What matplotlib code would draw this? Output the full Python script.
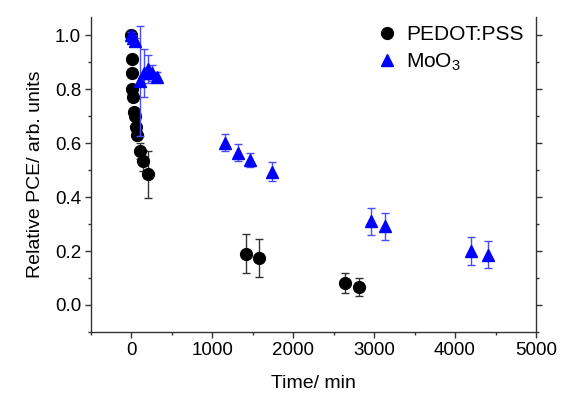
import matplotlib
matplotlib.use("Agg")
import matplotlib.pyplot as plt
from matplotlib.ticker import MultipleLocator, FormatStrFormatter
from matplotlib.lines import Line2D

plt.rcParams['font.family'] = ['Liberation Sans', 'DejaVu Sans']
plt.rcParams['mathtext.fontset'] = 'custom'
plt.rcParams['mathtext.rm'] = 'Liberation Sans'

# PEDOT:PSS interlayer
pedot_t = [0, 2, 5, 12, 25, 33, 46, 58, 70, 107, 140, 200,
           1415, 1580, 2640, 2815]
pedot_pce = [1.00, 0.91, 0.86, 0.80, 0.77, 0.716, 0.70, 0.66, 0.63, 0.57, 0.535, 0.484,
             0.19, 0.173, 0.08, 0.067]
pedot_err = [0.01, 0.01, 0.01, 0.01, 0.01, 0.01, 0.01, 0.015, 0.02, 0.03, 0.04, 0.088,
             0.072, 0.071, 0.037, 0.034]

# MoO3 interlayer
moo3_t = [0, 20, 40, 107, 150, 200, 260, 320,
          1157, 1313, 1469, 1737, 2967, 3132, 4202, 4407]
moo3_pce = [1.00, 0.99, 0.98, 0.83, 0.86, 0.875, 0.86, 0.845,
            0.602, 0.565, 0.537, 0.494, 0.31, 0.292, 0.20, 0.187]
moo3_err = [0.01, 0.01, 0.01, 0.205, 0.09, 0.052, 0.03, 0.02,
            0.03, 0.033, 0.025, 0.036, 0.05, 0.05, 0.052, 0.049]

fig = plt.figure(figsize=(5.72, 3.98), dpi=100)
ax = fig.add_axes([0.159, 0.166, 0.778, 0.791])

ax.errorbar(pedot_t, pedot_pce, yerr=pedot_err, fmt='o', color='black',
            ecolor='#333333', elinewidth=1.0, capsize=3, capthick=1.0,
            markersize=8.5, zorder=2)
ax.errorbar(moo3_t, moo3_pce, yerr=moo3_err, fmt='^', color='#0000ff',
            ecolor='#4a4aff', elinewidth=1.0, capsize=3, capthick=1.0,
            markersize=9, zorder=3)

ax.set_xlim(-500, 5000)
ax.set_ylim(-0.1, 1.067)
ax.xaxis.set_major_locator(MultipleLocator(1000))
ax.xaxis.set_minor_locator(MultipleLocator(500))
ax.yaxis.set_major_locator(MultipleLocator(0.2))
ax.yaxis.set_minor_locator(MultipleLocator(0.1))
ax.yaxis.set_major_formatter(FormatStrFormatter('%.1f'))

ax.spines['top'].set_visible(False)
for s in ('left', 'bottom', 'right'):
    ax.spines[s].set_color('#333333')
    ax.spines[s].set_linewidth(1.0)

ax.tick_params(axis='both', which='major', direction='out', length=4.5, width=1,
               labelsize=13.5, colors='#333333', labelcolor='black', pad=2.5)
ax.tick_params(axis='both', which='minor', direction='out', length=2.5, width=1,
               colors='#333333')
ax.tick_params(axis='y', which='both', right=True, labelright=False)

ax.set_xlabel('Time/ min', fontsize=14, labelpad=12)
ax.set_ylabel('Relative PCE/ arb. units', fontsize=14, labelpad=8)

handles = [
    Line2D([], [], linestyle='none', marker='o', color='black', markersize=8.5),
    Line2D([], [], linestyle='none', marker='^', color='#0000ff', markersize=9),
]
ax.legend(handles, ['PEDOT:PSS', 'MoO$_3$'], loc='upper right', frameon=False,
          fontsize=15, handletextpad=0.3, borderaxespad=0.2, labelspacing=0.35,
          handlelength=1.2, bbox_to_anchor=(1.0, 1.015))

fig.savefig('out.png', dpi=100)
